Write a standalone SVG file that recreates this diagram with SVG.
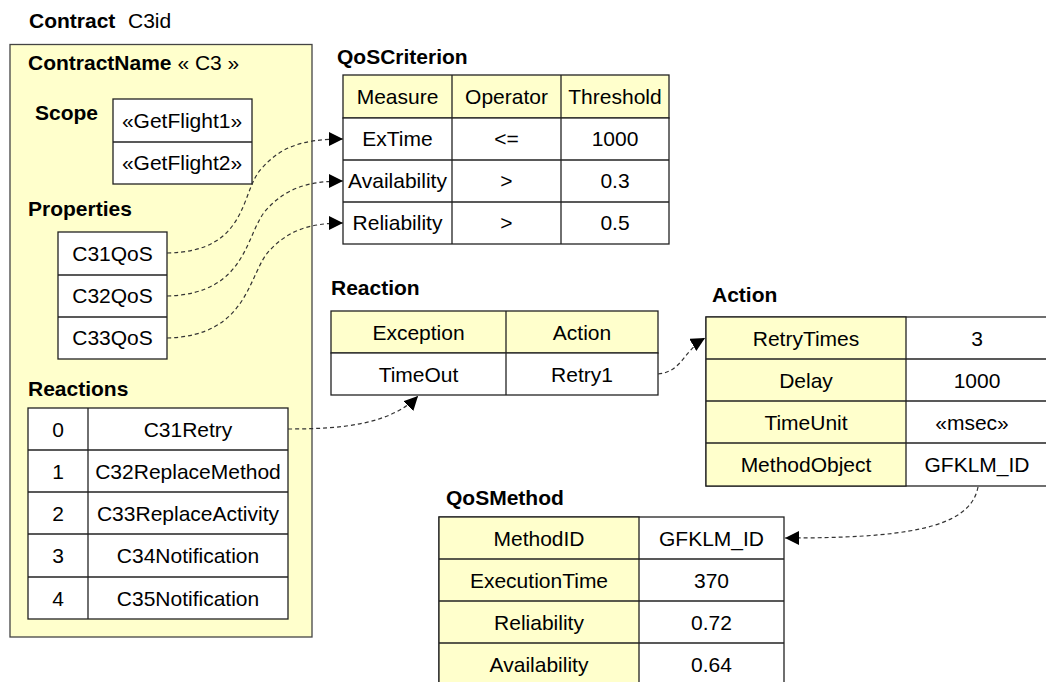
<svg xmlns="http://www.w3.org/2000/svg" width="1046" height="682" viewBox="0 0 1046 682">
<style>
text{font-family:"Liberation Sans",Arial,sans-serif;font-size:21px;fill:#000}
.b{font-weight:bold}
.c{text-anchor:middle}
.cell{fill:#fff;stroke:#222;stroke-width:1.3}
.hd{fill:#FFFFCC;stroke:#222;stroke-width:1.3}
.ln{stroke:#222;stroke-width:1.3;fill:none}
.conn path{fill:none;stroke:#333;stroke-width:1.2;stroke-dasharray:4 3}
</style>
<defs>
<marker id="ah" markerUnits="userSpaceOnUse" markerWidth="16" markerHeight="14" refX="14" refY="7" orient="auto">
<path d="M0,0 L14,7 L0,14 Z" fill="#000"/>
</marker>
</defs>
<rect width="1046" height="682" fill="#fff"/>

<g id="contract">
<text x="29" y="28"><tspan class="b">Contract</tspan><tspan x="128">C3id</tspan></text>
<rect x="10" y="44.5" width="302" height="592.5" fill="#FFFFCC" stroke="#444" stroke-width="1.3"/>
<text x="28" y="70"><tspan class="b">ContractName</tspan> « C3 »</text>
</g>

<g id="scope">
<text class="b" x="35" y="120">Scope</text>
<rect class="cell" x="113" y="99" width="139" height="85"/>
<line class="ln" x1="113" y1="142" x2="252" y2="142"/>
<text class="c" x="182" y="128">«GetFlight1»</text>
<text class="c" x="182" y="170">«GetFlight2»</text>
</g>

<g id="properties">
<text class="b" x="28" y="216">Properties</text>
<rect class="cell" x="58" y="232" width="109" height="127"/>
<line class="ln" x1="58" y1="275" x2="167" y2="275"/>
<line class="ln" x1="58" y1="317" x2="167" y2="317"/>
<text class="c" x="112.5" y="261">C31QoS</text>
<text class="c" x="112.5" y="303">C32QoS</text>
<text class="c" x="112.5" y="345">C33QoS</text>
</g>

<g id="reactions">
<text class="b" x="28" y="396">Reactions</text>
<rect class="cell" x="28" y="408" width="260" height="211"/>
<line class="ln" x1="88" y1="408" x2="88" y2="619"/>
<line class="ln" x1="28" y1="450" x2="288" y2="450"/>
<line class="ln" x1="28" y1="492" x2="288" y2="492"/>
<line class="ln" x1="28" y1="534" x2="288" y2="534"/>
<line class="ln" x1="28" y1="577" x2="288" y2="577"/>
<text class="c" x="58" y="437">0</text><text class="c" x="188" y="437">C31Retry</text>
<text class="c" x="58" y="479">1</text><text class="c" x="188" y="479">C32ReplaceMethod</text>
<text class="c" x="58" y="521">2</text><text class="c" x="188" y="521">C33ReplaceActivity</text>
<text class="c" x="58" y="563">3</text><text class="c" x="188" y="563">C34Notification</text>
<text class="c" x="58" y="606">4</text><text class="c" x="188" y="606">C35Notification</text>
</g>

<g id="qoscriterion">
<text class="b" x="337" y="64">QoSCriterion</text>
<rect class="hd" x="343" y="75" width="326" height="43"/>
<rect class="cell" x="343" y="118" width="326" height="126"/>
<line class="ln" x1="452" y1="75" x2="452" y2="244"/>
<line class="ln" x1="561" y1="75" x2="561" y2="244"/>
<line class="ln" x1="343" y1="160" x2="669" y2="160"/>
<line class="ln" x1="343" y1="202" x2="669" y2="202"/>
<text class="c" x="397.5" y="104">Measure</text><text class="c" x="506.5" y="104">Operator</text><text class="c" x="615" y="104">Threshold</text>
<text class="c" x="397.5" y="146">ExTime</text><text class="c" x="506.5" y="146">&lt;=</text><text class="c" x="615" y="146">1000</text>
<text class="c" x="397.5" y="188">Availability</text><text class="c" x="506.5" y="188">&gt;</text><text class="c" x="615" y="188">0.3</text>
<text class="c" x="397.5" y="230">Reliability</text><text class="c" x="506.5" y="230">&gt;</text><text class="c" x="615" y="230">0.5</text>
</g>

<g id="reaction">
<text class="b" x="331" y="295">Reaction</text>
<rect class="hd" x="331" y="311" width="327" height="42"/>
<rect class="cell" x="331" y="353" width="327" height="42"/>
<line class="ln" x1="506" y1="311" x2="506" y2="395"/>
<text class="c" x="418.5" y="340">Exception</text><text class="c" x="582" y="340">Action</text>
<text class="c" x="418.5" y="382">TimeOut</text><text class="c" x="582" y="382">Retry1</text>
</g>

<g id="action">
<text class="b" x="712" y="302">Action</text>
<rect class="cell" x="706" y="317" width="342" height="169"/>
<rect class="hd" x="706" y="317" width="200" height="169"/>
<line class="ln" x1="706" y1="359" x2="1048" y2="359"/>
<line class="ln" x1="706" y1="401" x2="1048" y2="401"/>
<line class="ln" x1="706" y1="443" x2="1048" y2="443"/>
<text class="c" x="806" y="346">RetryTimes</text><text class="c" x="977" y="346">3</text>
<text class="c" x="806" y="388">Delay</text><text class="c" x="977" y="388">1000</text>
<text class="c" x="806" y="430">TimeUnit</text><text class="c" x="972" y="430">«msec»</text>
<text class="c" x="806" y="472">MethodObject</text><text class="c" x="977" y="472">GFKLM_ID</text>
</g>

<g id="qosmethod">
<text class="b" x="446" y="505">QoSMethod</text>
<rect class="cell" x="439" y="517" width="345" height="170"/>
<rect class="hd" x="439" y="517" width="200" height="170"/>
<line class="ln" x1="439" y1="559" x2="784" y2="559"/>
<line class="ln" x1="439" y1="601" x2="784" y2="601"/>
<line class="ln" x1="439" y1="643" x2="784" y2="643"/>
<text class="c" x="539" y="546">MethodID</text><text class="c" x="711.5" y="546">GFKLM_ID</text>
<text class="c" x="539" y="588">ExecutionTime</text><text class="c" x="711.5" y="588">370</text>
<text class="c" x="539" y="630">Reliability</text><text class="c" x="711.5" y="630">0.72</text>
<text class="c" x="539" y="672">Availability</text><text class="c" x="711.5" y="672">0.64</text>
</g>

<g id="connectors" class="conn">
<path d="M167,253 C250,252 240,190 262,168 C280,148 300,139 343,139" marker-end="url(#ah)"/>
<path d="M167,296 C250,294 245,230 268,208 C285,190 305,181 343,181" marker-end="url(#ah)"/>
<path d="M167,338 C250,336 248,272 270,250 C287,232 307,223 343,223" marker-end="url(#ah)"/>
<path d="M288,429 C340,429 390,425 418,396" marker-end="url(#ah)"/>
<path d="M658,374 C682,372 684,350 705,338" marker-end="url(#ah)"/>
<path d="M978,487 C970,530 900,538 785,538" marker-end="url(#ah)"/>
</g>
</svg>
